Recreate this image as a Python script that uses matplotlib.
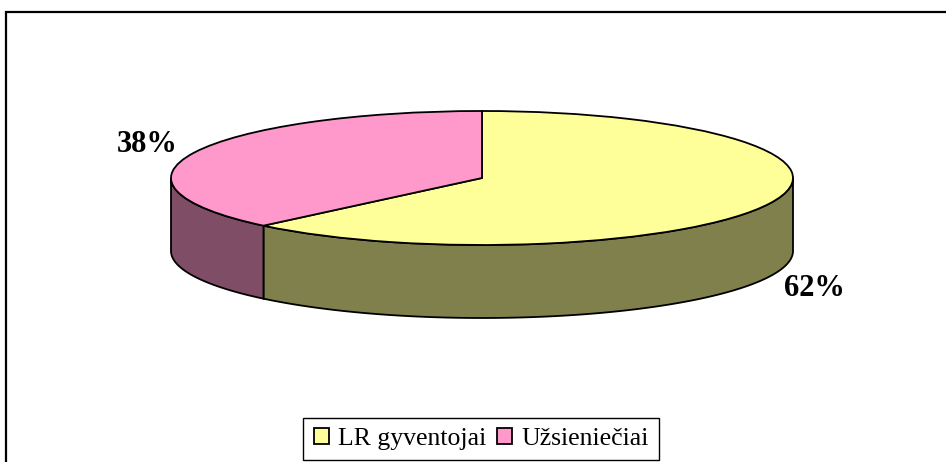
import numpy as np
import matplotlib.pyplot as plt
from matplotlib.lines import Line2D
from matplotlib.patches import Patch

plt.rcParams['font.family'] = ['Liberation Serif', 'DejaVu Serif']

labels = ['LR gyventojai', 'Užsieniečiai']
values = [62.4, 37.6]
pct_labels = ['62%', '38%']
top_colors = ['#FFFF99', '#FF99CC']
side_colors = ['#80804D', '#804D66']

W, H = 946, 462
cx, cy = 482, 178
rx, ry = 311, 67
depth = 73

fig = plt.figure(figsize=(W / 100, H / 100), dpi=100, facecolor='white')
ax = fig.add_axes([0, 0, 1, 1])
ax.pie(values, colors=top_colors, startangle=90, counterclock=False, radius=1,
       wedgeprops={'edgecolor': 'black', 'linewidth': 1.3, 'zorder': 3})
ax.set_aspect('auto')
# y goes in pie radii, so scale the limits to get the flat ellipse
ax.set_xlim(-cx / rx, (W - cx) / rx)
ax.set_ylim(-(H - cy) / ry, cy / ry)
d = depth / ry

# side walls, only the front half of the ellipse shows
split = 90 - 360 * values[0] / sum(values)
t1 = np.radians(np.linspace(split, 0, 100))
t2 = np.radians(np.linspace(-180, split, 60))
for t, col in zip([t1, t2], side_colors):
    x = np.cos(t)
    y = np.sin(t)
    xs = np.concatenate([x, x[::-1]])
    ys = np.concatenate([y, y[::-1] - d])
    ax.fill(xs, ys, facecolor=col, edgecolor='black', linewidth=1.3, zorder=2)

ax.text((814 - cx) / rx, (cy - 289) / ry, pct_labels[0], fontsize=22, fontweight='bold',
        ha='center', va='center', zorder=5)
ax.text((147 - cx) / rx, (cy - 145) / ry, pct_labels[1], fontsize=22, fontweight='bold',
        ha='center', va='center', zorder=5)

# outer frame: only top and left, both run off the picture
fig.add_artist(Line2D([6 / W, 6 / W, 1], [0, 1 - 12 / H, 1 - 12 / H], color='black',
                      linewidth=1.6, solid_joinstyle='miter'))

handles = [Patch(facecolor=c, edgecolor='black', linewidth=1.3) for c in top_colors]
fig.legend(handles, labels, loc='center', bbox_to_anchor=(481 / W, 1 - 439 / H), ncol=2,
           fontsize=18.5, frameon=True, fancybox=False, edgecolor='black', framealpha=1,
           handlelength=0.6, handleheight=0.6, handletextpad=0.35, columnspacing=0.4,
           borderpad=0.4, borderaxespad=0)

fig.savefig('out.png', dpi=100)
